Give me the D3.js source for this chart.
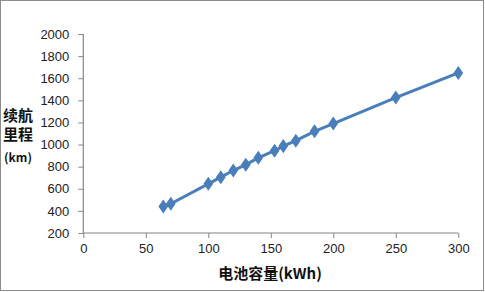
<!DOCTYPE html>
<html>
<head>
<meta charset="utf-8">
<script src="https://cdn.jsdelivr.net/npm/d3@7"></script>
<style>
html,body{margin:0;padding:0;background:#fff;}
svg{display:block;}
</style>
</head>
<body>
<script>
const capacity = [64, 70, 100, 110, 120, 130, 140, 153, 160, 170, 185, 200, 250, 300];
const range = [440, 465, 645, 705, 765, 818, 880, 944, 986, 1035, 1120, 1190, 1425, 1648];
const xTicks = [0, 50, 100, 150, 200, 250, 300];
const yTicks = [200, 400, 600, 800, 1000, 1200, 1400, 1600, 1800, 2000];
const xTitle = "电池容量(kWh)";
const yTitleLines = ["续航", "里程", "(km)"];

const W = 485, H = 292;
const svg = d3.select("body").append("svg").attr("width", W).attr("height", H);

svg.append("rect").attr("x", 0.5).attr("y", 0.5).attr("width", 483).attr("height", 290)
  .attr("fill", "#fff").attr("stroke", "#8c8c8c").attr("stroke-width", 1);

const x = d3.scaleLinear().domain([0, 300]).range([83.3, 458.3]);
const y = d3.scaleLinear().domain([200, 2000]).range([233, 34]);

const font = "'Liberation Sans', Arial, sans-serif";
const axisColor = "#868686";

const xAxis = svg.append("g").attr("transform", "translate(0,233)")
  .call(d3.axisBottom(x).tickValues(xTicks).tickSize(5).tickPadding(6).tickFormat(d3.format("d")));
const yAxis = svg.append("g").attr("transform", "translate(83.3,0)")
  .call(d3.axisLeft(y).tickValues(yTicks).tickSize(5).tickPadding(9).tickFormat(d3.format("d")));
[xAxis, yAxis].forEach(g => {
  g.select(".domain").attr("stroke", axisColor).attr("stroke-width", 1.2);
  g.selectAll(".tick line").attr("stroke", axisColor);
  g.selectAll(".tick text").attr("fill", "#222").style("font-family", font).style("font-size", "13px");
});
xAxis.select(".domain").attr("d", "M83.3,0H458.3");
yAxis.select(".domain").attr("d", "M0,233V34");

const line = d3.line().x((d, i) => x(capacity[i])).y(d => y(d));
svg.append("path").datum(range).attr("d", line)
  .attr("fill", "none").attr("stroke", "#4a7ebb").attr("stroke-width", 3).attr("stroke-linejoin", "round");

const diamond = d3.symbol().type(d3.symbolDiamond).size(42);
svg.selectAll(".pt").data(range).enter().append("path")
  .attr("d", diamond)
  .attr("transform", (d, i) => `translate(${x(capacity[i])},${y(d)}) scale(1.2,1)`)
  .attr("fill", "#4a7ebb").attr("stroke", "#4a7ebb").attr("stroke-width", 1);

svg.append("text").attr("x", 270).attr("y", 279).attr("text-anchor", "middle")
  .style("font-family", "'Noto Sans CJK SC', sans-serif").style("font-weight", "bold").style("font-size", "15px")
  .attr("fill", "#111").text(xTitle);

const yt = svg.append("text").attr("text-anchor", "middle")
  .style("font-family", "'Noto Sans CJK SC', sans-serif").style("font-weight", "bold").attr("fill", "#111");
[[yTitleLines[0], 121, 15], [yTitleLines[1], 140, 15], [yTitleLines[2], 162, 12]].forEach(([t, yy, fs]) => {
  yt.append("tspan").attr("x", 18).attr("y", yy).style("font-size", fs + "px").text(t);
});
</script>
</body>
</html>
